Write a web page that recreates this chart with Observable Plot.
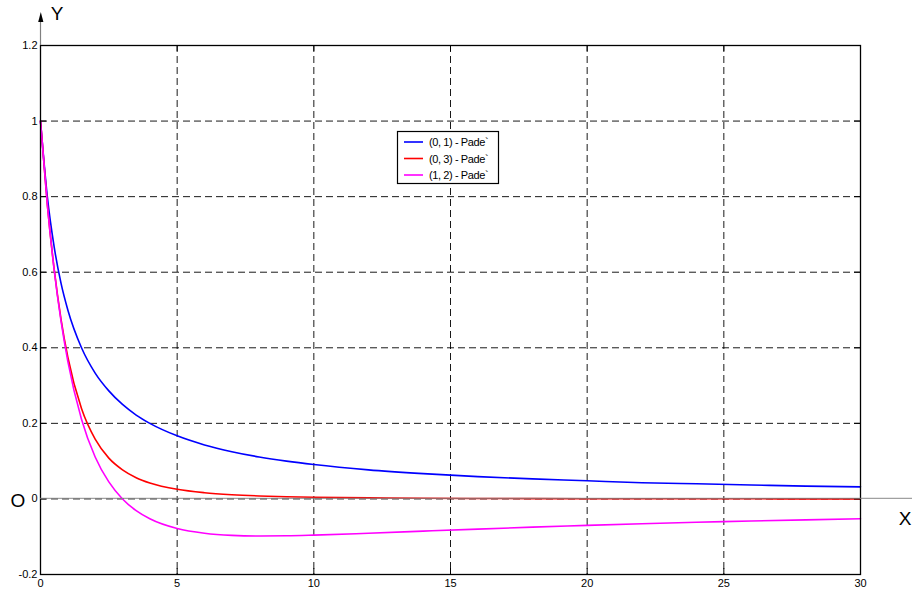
<!DOCTYPE html>
<html>
<head>
<meta charset="utf-8">
<script src="https://cdn.jsdelivr.net/npm/d3@7"></script>
<script src="https://cdn.jsdelivr.net/npm/@observablehq/plot@0.6"></script>
<style>
  html, body { margin: 0; padding: 0; background: #fff; }
  #chart { width: 912px; height: 593px; }
</style>
</head>
<body>
<div id="chart"></div>
<script>
// Sample x positions
const xs = [0, 0.25, 0.5, 0.75, 1, 1.5, 2, 2.5, 3, 3.5, 4, 5, 6, 7, 8, 9, 10, 12, 14, 16, 18, 20, 22, 24, 26, 28, 30];
// (0, 1) - Pade`
const pade01 = [1, 0.8, 0.667, 0.571, 0.5, 0.4, 0.333, 0.286, 0.25, 0.222, 0.2, 0.167, 0.143, 0.125, 0.111, 0.1, 0.091, 0.077, 0.067, 0.059, 0.053, 0.048, 0.043, 0.04, 0.037, 0.034, 0.032];
// (0, 3) - Pade`
const pade03 = [1, 0.779, 0.608, 0.476, 0.375, 0.239, 0.158, 0.108, 0.077, 0.0563, 0.0423, 0.0254, 0.0164, 0.0112, 0.0079, 0.0058, 0.0044, 0.0027, 0.00175, 0.0012, 0.00087, 0.00064, 0.00049, 0.00038, 0.0003, 0.00025, 0.0002];
// (1, 2) - Pade`
const pade12 = [1, 0.779, 0.606, 0.471, 0.364, 0.211, 0.111, 0.045, 0, -0.031, -0.0526, -0.0784, -0.0909, -0.0964, -0.098, -0.0976, -0.0959, -0.0909, -0.0853, -0.0798, -0.0746, -0.070, -0.0657, -0.0619, -0.0585, -0.0554, -0.0526];

const seriesNames = ["(0, 1) - Pade`", "(0, 3) - Pade`", "(1, 2) - Pade`"];
const seriesColors = ["#0000ff", "#ff0000", "#ff00ff"];
const seriesValues = [pade01, pade03, pade12];

const xTicks = [0, 5, 10, 15, 20, 25, 30];
const yTicks = [-0.2, 0, 0.2, 0.4, 0.6, 0.8, 1, 1.2];

const rows = [];
seriesValues.forEach((vals, i) => {
  vals.forEach((v, j) => rows.push({series: seriesNames[i], x: xs[j], y: v}));
});

const W = 912, H = 593;
const mL = 40, mR = 52, mT = 45, mB = 19;
const innerW = W - mL - mR, innerH = H - mT - mB;

const grid = {stroke: "#000", strokeOpacity: 0.9, strokeWidth: 1, strokeDasharray: "7,4"};

const plot = Plot.plot({
  width: W, height: H,
  marginLeft: mL, marginRight: mR, marginTop: mT, marginBottom: mB,
  x: {domain: [0, 30]},
  y: {domain: [-0.2, 1.2]},
  style: {fontFamily: "'Liberation Sans', Arial, sans-serif", fontSize: "11px", background: "#fff", color: "#000", overflow: "visible"},
  marks: [
    Plot.gridX(xTicks, grid),
    Plot.gridY(yTicks, grid),
    ...seriesNames.map((name, i) =>
      Plot.line(rows.filter(r => r.series === name), {x: "x", y: "y", stroke: seriesColors[i], strokeWidth: 1.6, curve: "monotone-x"})
    ),
    Plot.tickX(xTicks, {x: d => d, insetTop: innerH - 6, stroke: "#000"}),
    Plot.tickX(xTicks, {x: d => d, insetBottom: innerH - 6, stroke: "#000"}),
    Plot.tickY(yTicks, {y: d => d, insetRight: innerW - 6, stroke: "#000"}),
    Plot.tickY(yTicks, {y: d => d, insetLeft: innerW - 6, stroke: "#000"}),
    Plot.frame({stroke: "#000", strokeWidth: 1.3}),
    Plot.axisX(xTicks, {tickSize: 0, tickPadding: 5, label: null, fontSize: 11}),
    Plot.axisY(yTicks, {tickSize: 0, tickPadding: 3, label: null, fontSize: 11, tickFormat: d => String(+d.toFixed(1))})
  ]
});

document.getElementById("chart").appendChild(plot);

const svg = d3.select(plot);
const sx = plot.scale("x"), sy = plot.scale("y");
const x0 = sx.apply(0), y0 = sy.apply(0), yTop = sy.apply(1.2);

// x axis line through origin, extending to the right edge
svg.append("line").attr("x1", x0).attr("x2", W).attr("y1", y0).attr("y2", y0)
  .attr("stroke", "#808080").attr("stroke-opacity", 0.75).attr("stroke-width", 1.2);
// y axis extension with arrow
svg.append("line").attr("x1", x0 + 0.5).attr("x2", x0 + 0.5).attr("y1", yTop).attr("y2", 20)
  .attr("stroke", "#808080").attr("stroke-width", 1.2);
svg.append("path").attr("d", `M${x0 + 0.8},12 L${x0 - 1.8},22 L${x0 + 3.4},22 Z`).attr("fill", "#000");

const font = "'Liberation Sans', Arial, sans-serif";
function label(t, x, y) {
  svg.append("text").attr("x", x).attr("y", y).attr("text-anchor", "middle").attr("dominant-baseline", "central")
    .attr("font-family", font).attr("font-size", "19px").attr("fill", "#000").text(t);
}
label("Y", 57, 13);
label("X", 905, 518);
label("O", 18, 500);

// legend
const lg = svg.append("g");
lg.append("rect").attr("x", 397.5).attr("y", 131.5).attr("width", 101).attr("height", 52)
  .attr("fill", "#fff").attr("stroke", "#000").attr("stroke-width", 1.2);
seriesNames.forEach((name, i) => {
  const yy = 142 + i * 16.5;
  lg.append("line").attr("x1", 404).attr("x2", 423).attr("y1", yy).attr("y2", yy)
    .attr("stroke", seriesColors[i]).attr("stroke-width", 1.6);
  lg.append("text").attr("x", 429).attr("y", yy).attr("dominant-baseline", "central")
    .attr("text-anchor", "start")
    .attr("font-family", font).attr("font-size", "11px")
    .attr("letter-spacing", "-0.4px").attr("fill", "#000").text(name);
});
</script>
</body>
</html>
